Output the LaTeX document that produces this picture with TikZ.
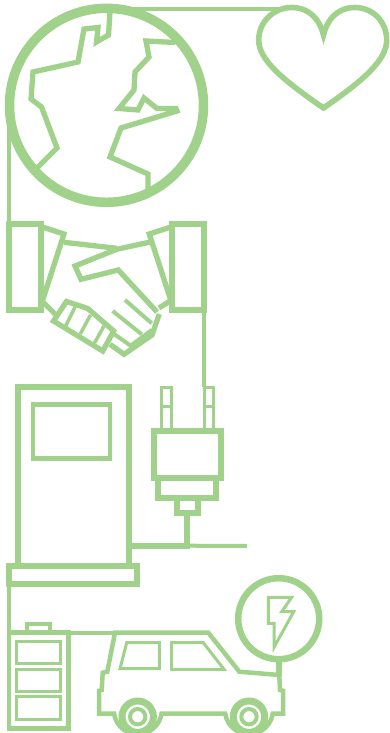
\documentclass[tikz,border=0pt]{standalone}
\usepackage{tikz}
\usetikzlibrary{positioning,calc}
\definecolor{leaf}{HTML}{A0D28B}
\begin{document}
\begin{tikzpicture}[x=1pt,y=-1pt,line join=miter]
  \tikzstyle{wire}=[draw=leaf,line width=4pt]
  \tikzstyle{heavy}=[draw=leaf,line width=6pt]
  \tikzstyle{outline}=[draw=leaf,line width=5.3pt]
  \tikzstyle{shell}=[draw=leaf,line width=4.5pt]
  \tikzstyle{slim}=[draw=leaf,line width=3pt]
  \useasboundingbox (0,0) rectangle (390,733);
  \clip (0,0) rectangle (390,733);
  % globe
  \draw[draw=leaf,line width=9.5pt] (106.5,105.3) circle (97);
  \draw[outline] (110,12) -- (108.5,35) -- (96.5,42) -- (98,27.5) -- (84,29) -- (78,62) -- (33,72) -- (31,99) -- (41.5,107) -- (57,148) -- (37,168);
  \draw[outline] (175,42.5) -- (146,41) -- (149,57) -- (135,72) -- (134,90) -- (119,108.5) -- (138,110) -- (144,98) -- (157,108.5) -- (176,108.5) -- (177,111) -- (121,128) -- (110,157) -- (148,174) -- (148,190);
  % heart
  \draw[outline,line width=5.6pt,miter limit=12] (323.5,35) .. controls (320,20) and (309.7,7.5) .. (291.7,7.5)
    .. controls (273.7,7.5) and (258.7,22) .. (258.7,40) .. controls (258.7,60) and (283,80) .. (323.5,108)
    .. controls (364,80) and (386.7,60) .. (386.7,40) .. controls (386.7,22) and (373,7.5) .. (355,7.5)
    .. controls (337,7.5) and (327,20) .. cycle;
  \coordinate (globetop) at (130,9);
  \coordinate (heartleft) at (285,9);
  \draw[wire] (globetop) -- (heartleft);
  \coordinate (globeleft) at (9,125);
  \coordinate (cuffleft) at (9,224);
  \draw[wire] (globeleft) -- (cuffleft);
  % handshake
  \draw[heavy] (9,224) rectangle (41,310);
  \draw[heavy] (172,224) rectangle (204,310);
  \draw[outline] (43.3,227.3) -- (64,234) -- (42.7,300);
  \draw[outline] (170,227.3) -- (149.3,234) -- (170.7,300);
  \draw[outline] (64,242.3) -- (116.7,248.3);
  \draw[outline] (151.7,241.7) -- (116.7,249.3) -- (75,266) -- (81,279.3) -- (118.3,270) -- (157,312);
  \draw[outline] (159,308) -- (170,301);
  \draw[outline] (43,302) -- (56,315);
  \draw[outline] (159.3,314) -- (152,335) -- (124,354.3) -- (110,344.3);
  \draw[outline] (66.5,301.5) -- (87.8,308.5) -- (113.7,331) -- (102.7,351) -- (53.5,321) -- cycle;
  \draw[draw=leaf,line width=3.5pt] (76,305) -- (65.7,326);
  \draw[draw=leaf,line width=3.5pt] (90.5,315) -- (80.2,334);
  \draw[draw=leaf,line width=3.5pt] (104,326) -- (94.5,343);
  \draw[wire] (125,300) -- (151.7,323.3);
  \draw[wire] (112.7,311) -- (141.7,334.3);
  \draw[wire] (114,334) -- (130.7,345.7) -- (151.7,330);
  \coordinate (cuffright) at (204,310);
  \coordinate (prongtop) at (204,387);
  \draw[wire] (cuffright) -- (prongtop);
  % station
  \draw[heavy] (17.5,566) -- (17.5,387) -- (128.5,387) -- (128.5,566);
  \draw[shell] (33,404.5) rectangle (110,458.7);
  \draw[heavy] (8.5,566) rectangle (137,583.5);
  % plug
  \draw[slim] (161,428) -- (161,387.5) -- (171,387.5) -- (171,428);
  \draw[slim] (161,406.7) -- (171,406.7);
  \draw[slim] (204,428) -- (204,387.5) -- (213.3,387.5) -- (213.3,428);
  \draw[slim] (204,406.7) -- (213.3,406.7);
  \draw[heavy] (153.5,430.5) rectangle (221,477.5);
  \draw[heavy] (158,477.5) rectangle (216,497.5);
  \draw[heavy] (177,497.5) rectangle (197.5,512.5);
  \coordinate (plugfoot) at (187,515);
  \coordinate (cablebend) at (187,545.7);
  \coordinate (cableend) at (247,546);
  \draw[heavy] (130,545.7) -- (cablebend) -- (plugfoot);
  \draw[wire] (cablebend) -- (cableend);
  % battery
  \coordinate (basefoot) at (9,586);
  \coordinate (batterytop) at (9,632);
  \draw[wire] (basefoot) -- (batterytop);
  \draw[shell] (9,632.5) rectangle (68.5,728.5);
  \draw[wire] (27,632) -- (27,624) -- (50,624) -- (50,632);
  \draw[slim] (16.5,641.5) rectangle (60.8,663.5);
  \draw[slim] (16.5,669.2) rectangle (60.8,691.2);
  \draw[slim] (16.5,696.5) rectangle (60.8,719.2);
  \coordinate (batteryright) at (70,632.7);
  \coordinate (carroof) at (115,632.7);
  \draw[wire] (batteryright) -- (carroof);
  % car
  \draw[shell] (115,632.7) -- (107.3,671.7) -- (102.7,672.7) -- (101.7,690) -- (99,690.7) -- (99,713.5) -- (114,713.5)
    arc (172:8:24) -- (225.2,713.5) arc (172:8:24) -- (283,713.5) -- (283,690.7) -- (280,690) -- (279.3,675) -- (239.3,671.7) -- (208.3,632.7) -- cycle;
  \draw[slim] (126.7,642.7) -- (159.3,642.7) -- (159.3,668.7) -- (120,668.7) -- cycle;
  \draw[slim] (171.7,642.7) -- (203.3,642.7) -- (224,669.3) -- (171.7,669.3) -- cycle;
  \draw[draw=leaf,line width=7pt] (137.7,716.7) circle (15.7);
  \draw[wire] (137.7,716.7) circle (7.7);
  \draw[draw=leaf,line width=7pt] (249,716.7) circle (15.7);
  \draw[wire] (249,716.7) circle (7.7);
  % charge sign
  \draw[draw=leaf,line width=6.5pt] (278.7,618.7) circle (40.5);
  \draw[slim] (268.3,597.3) -- (291.7,597.3) -- (281.7,611.7) -- (293.7,611.7) -- (274,647.3) -- (274,623.3) -- (268.3,623.3) -- cycle;
  \coordinate (signfoot) at (279,660);
  \coordinate (carnose) at (279,676);
  \draw[outline] (signfoot) -- (carnose);
\end{tikzpicture}
\end{document}
